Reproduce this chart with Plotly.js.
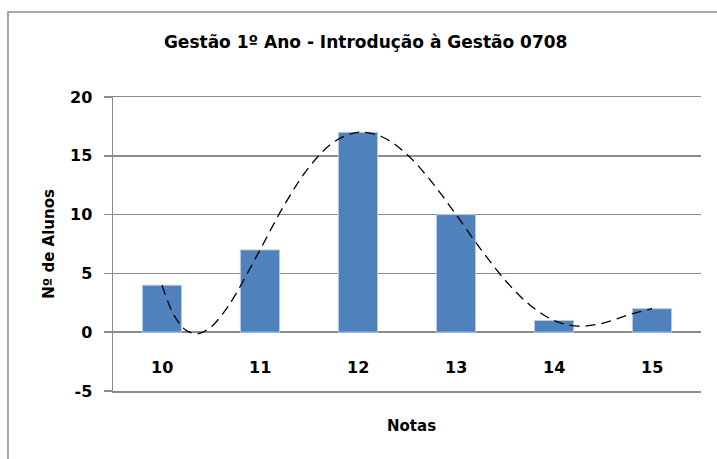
<!DOCTYPE html>
<html>
<head>
<meta charset="utf-8">
<script src="https://cdn.plot.ly/plotly-3.0.1.min.js"></script>
<style>html,body{margin:0;padding:0;background:#fff;}#chart{width:717px;height:459px;}</style>
</head>
<body>
<div id="chart"></div>
<script>
// Bar data
const notas = [10, 11, 12, 13, 14, 15];
const alunos = [4, 7, 17, 10, 1, 2];
const tickLabels = ['10', '11', '12', '13', '14', '15'];
const yTicks = [-5, 0, 5, 10, 15, 20];

// Dashed trendline (polynomial)
const trendX = [10, 10.125, 10.25, 10.375, 10.5, 10.625, 10.75, 11, 11.25, 11.5, 11.75, 12,
                12.25, 12.5, 12.75, 13, 13.25, 13.5, 13.75, 14, 14.25, 14.5, 14.75, 15];
const trendY = [4, 1.41, 0.13, -0.11, 0.45, 1.62, 3.2, 7, 10.84, 14.03, 16.15, 17,
                16.6, 15.11, 12.8, 10, 7.09, 4.44, 2.34, 1, 0.51, 0.77, 1.45, 2];

const grid = '#8c8c8c';
const fontFam = '"DejaVu Sans", "Liberation Sans", Arial, sans-serif';

const traces = [
  {
    type: 'bar', x: notas, y: alunos,
    marker: {color: '#4F81BD', line: {color: '#b9cde5', width: 1}},
    hoverinfo: 'skip'
  },
  {
    type: 'scatter', mode: 'lines', x: trendX, y: trendY,
    line: {shape: 'spline', smoothing: 1, color: '#000', width: 1.3, dash: '10px,6px'},
    hoverinfo: 'skip'
  }
];

const annotations = notas.map((v, i) => ({
  x: v, y: -3, xref: 'x', yref: 'y', text: '<b>' + tickLabels[i] + '</b>', showarrow: false,
  font: {family: fontFam, size: 16, color: '#000'}
}));
annotations.push({
  x: 0.507, y: -0.12, xref: 'paper', yref: 'paper', xanchor: 'center', yanchor: 'middle',
  text: '<b>Notas</b>', showarrow: false, font: {family: fontFam, size: 15, color: '#000'}
});

const layout = {
  width: 717, height: 459,
  margin: {l: 113, r: 16, t: 97, b: 68},
  paper_bgcolor: '#fff', plot_bgcolor: '#fff',
  showlegend: false,
  bargap: 0.6,
  title: {
    text: '<b>Gestão 1º Ano - Introdução à Gestão 0708</b>',
    font: {family: fontFam, size: 17, color: '#000'},
    x: 0.51, xanchor: 'center', y: 0.908, yanchor: 'middle'
  },
  xaxis: {
    range: [9.5, 15.5], showticklabels: false, ticks: '',
    showgrid: false, zeroline: false,
    showline: true, mirror: true, linecolor: grid, linewidth: 1.5
  },
  yaxis: {
    range: [-5, 20], tickvals: yTicks, ticktext: yTicks.map(v => '<b>' + v + '</b>'),
    ticks: 'outside', ticklen: 8, tickcolor: grid, tickwidth: 1.5,
    ticklabelstandoff: 8,
    tickfont: {family: fontFam, size: 16, color: '#000'},
    showgrid: true, gridcolor: grid, gridwidth: 1.5,
    zeroline: true, zerolinecolor: grid, zerolinewidth: 1.5,
    showline: true, linecolor: grid, linewidth: 1.5,
    title: {text: '<b>Nº de Alunos</b>', font: {family: fontFam, size: 15, color: '#000'}, standoff: 12}
  },
  annotations: annotations,
  shapes: [{
    type: 'rect', xref: 'paper', yref: 'paper',
    x0: -0.1786, x1: 1.06, y0: -0.3, y1: 1.289,
    line: {color: '#8c8c8c', width: 1.5}, fillcolor: 'rgba(0,0,0,0)', layer: 'below'
  }]
};

Plotly.newPlot('chart', traces, layout, {staticPlot: true, displayModeBar: false});
</script>
</body>
</html>
